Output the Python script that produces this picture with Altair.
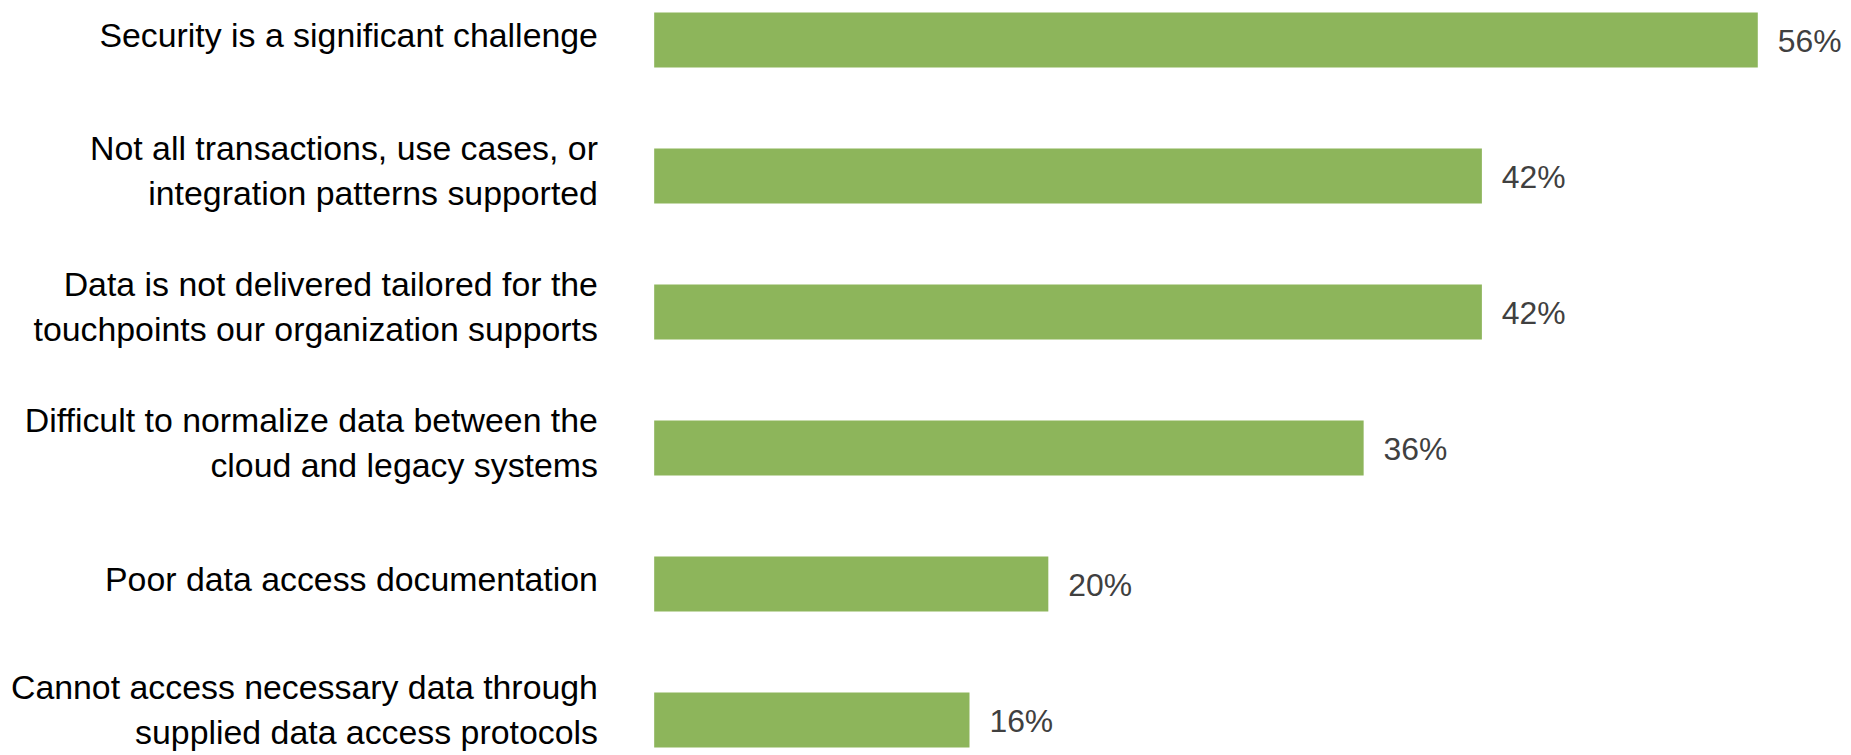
import altair as alt
import pandas as pd

categories = [
    "Security is a significant challenge",
    "Not all transactions, use cases, or|integration patterns supported",
    "Data is not delivered tailored for the|touchpoints our organization supports",
    "Difficult to normalize data between the|cloud and legacy systems",
    "Poor data access documentation",
    "Cannot access necessary data through|supplied data access protocols",
]
values = [56, 42, 42, 36, 20, 16]
labels = [f"{v}%" for v in values]

df = pd.DataFrame({"category": categories, "value": values, "label": labels})

FONT = "Liberation Sans"

y_enc = alt.Y(
    "category:N",
    sort=None,
    scale=alt.Scale(paddingInner=0.597, paddingOuter=0),
    axis=alt.Axis(
        title=None,
        domain=False,
        ticks=False,
        grid=False,
        labelPadding=57,
        labelFontSize=34,
        labelFont=FONT,
        labelColor="#000000",
        labelLimit=1200,
        labelLineHeight=45,
        labelOffset={
            "condition": [
                {"test": "indexof(datum.label, 'supplied') >= 0", "value": -31},
                {"test": "indexof(datum.label, '|') >= 0", "value": -26},
            ],
            "value": -3,
        },
        labelExpr="split(datum.label, '|')",
    ),
)
x_enc = alt.X("value:Q", scale=alt.Scale(domain=[0, 58], nice=False, zero=True), axis=None)

bars = alt.Chart(df).mark_bar(color="#8db55b").encode(y=y_enc, x=x_enc)
text = alt.Chart(df).mark_text(
    align="left", baseline="middle", dx=20, dy=2, fontSize=32, font=FONT, color="#404040"
).encode(y=alt.Y("category:N", sort=None), x=alt.X("value:Q"), text="label:N")

chart = (
    alt.layer(bars, text)
    .properties(
        width=1148,
        height=738,
        autosize=alt.AutoSizeParams(type="none"),
        padding={"left": 649, "top": 3, "right": 46, "bottom": 6},
        background="white",
    )
    .configure_view(stroke=None)
)

chart.save("out.html", embed_options={"renderer": "svg", "actions": False})
